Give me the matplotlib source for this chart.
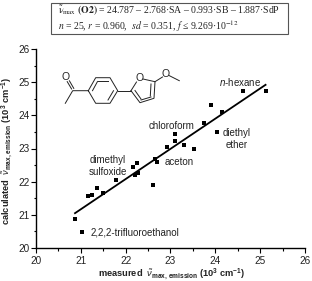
import matplotlib
matplotlib.use('Agg')
import matplotlib.pyplot as plt
from matplotlib.patches import Rectangle

plt.rcParams['font.family'] = ['Liberation Sans', 'DejaVu Sans']
plt.rcParams['mathtext.fontset'] = 'custom'
plt.rcParams['mathtext.rm'] = 'Liberation Sans'
plt.rcParams['mathtext.it'] = 'Liberation Sans:italic'
plt.rcParams['mathtext.bf'] = 'Liberation Sans:bold'

measured = [20.86, 21.03, 21.17, 21.26, 21.36, 21.49, 21.78, 22.16, 22.21, 22.26, 22.27, 22.62, 22.66,
            22.71, 22.93, 23.09, 23.09, 23.30, 23.52, 23.74, 23.91, 24.03, 24.14, 24.62, 25.12]
calculated = [20.87, 20.47, 21.56, 21.59, 21.81, 21.65, 22.06, 22.45, 22.20, 22.55, 22.25, 21.91, 22.69,
              22.60, 23.04, 23.23, 23.43, 23.11, 23.00, 23.76, 24.30, 23.50, 24.11, 24.72, 24.73]
fit_x = [20.87, 25.12]
fit_y = [21.05, 24.92]
ticks = [20, 21, 22, 23, 24, 25, 26]
minor = [20.5, 21.5, 22.5, 23.5, 24.5, 25.5]

W, H = 312, 281
fig = plt.figure(figsize=(W / 100, H / 100), dpi=100)
ax = fig.add_axes([36 / W, 1 - 248 / H, (305 - 36) / W, (248 - 49) / H])
ax.set_xlim(20, 26)
ax.set_ylim(20, 26)
ax.plot(fit_x, fit_y, color='black', lw=1.3, zorder=2)
ax.scatter(measured, calculated, marker='s', s=11, color='black', linewidths=0, zorder=3)
for s in ('top', 'right'):
    ax.spines[s].set_visible(False)
for s in ('left', 'bottom'):
    ax.spines[s].set_linewidth(1.0)
ax.set_xticks(ticks)
ax.set_yticks(ticks)
ax.set_xticks(minor, minor=True)
ax.set_yticks(minor, minor=True)
ax.tick_params(which='major', length=3.4, width=0.8, labelsize=7.2, color='black', labelcolor='#222222')
ax.tick_params(axis='x', which='major', pad=2.2)
ax.tick_params(axis='y', which='major', pad=1.0)
ax.tick_params(which='minor', length=1.8, width=0.8)

fs = 7.0
tc = '#222222'
ax.text(21.22, 20.47, '2,2,2-trifluoroethanol', fontsize=fs, color=tc, va='center', ha='left')
ax.text(21.6, 22.65, 'dimethyl', fontsize=fs, color=tc, ha='center', va='center')
ax.text(21.6, 22.30, 'sulfoxide', fontsize=fs, color=tc, ha='center', va='center')
ax.text(22.86, 22.60, 'aceton', fontsize=fs, color=tc, ha='left', va='center')
ax.text(23.02, 23.68, 'chloroform', fontsize=fs, color=tc, ha='center', va='center')
ax.text(24.17, 23.47, 'diethyl', fontsize=fs, color=tc, ha='left', va='center')
ax.text(24.24, 23.10, 'ether', fontsize=fs, color=tc, ha='left', va='center')
ax.text(24.55, 25.01, r'$\mathit{n}$-hexane', fontsize=fs, color=tc, ha='center', va='center')

fig.text(171 / W, 1 - 274.5 / H, r'measured  $\tilde{\mathit{\nu}}_{\mathbf{max,\,emission}}$ (10$^{\mathbf{3}}$ cm$^{\mathbf{-1}}$)',
         fontsize=6.7, fontweight='bold', ha='center', va='center', color=tc)
fig.text(7.5 / W, 1 - 151 / H, r'calculated  $\tilde{\mathit{\nu}}_{\mathbf{max,\,emission}}$ (10$^{\mathbf{3}}$ cm$^{\mathbf{-1}}$)',
         fontsize=6.7, fontweight='bold', ha='center', va='center', rotation=90, color=tc)

# overlay in pixel coordinates for the annotation box and the structure drawing
ov = fig.add_axes([0, 0, 1, 1], facecolor='none')
ov.set_xlim(0, W)
ov.set_ylim(H, 0)
ov.axis('off')
ov.add_patch(Rectangle((50.5, 2.5), 237, 31, fc='white', ec='#555555', lw=0.8))
ov.text(58, 18.5,
        r'$\tilde{\mathrm{\nu}}_{\mathrm{max}}$ $\mathbf{(O2)}$ = 24.787 – 2.768·SA – 0.993·SB – 1.887·SdP' + '\n'
        + r'$\mathit{n}$ = 25, $\mathit{r}$ = 0.960,  $\mathit{sd}$ = 0.351, $\mathit{f}$ ≤ 9.269·10$^{-12}$',
        fontsize=7.05, family='Liberation Serif', math_fontfamily='stix', va='center', ha='left',
        linespacing=1.15, color=tc)

bonds = [
    [(65.3, 103.3), (72.7, 90.7), (88.3, 90.7)],
    [(71.6, 89.0), (67.2, 81.6)], [(73.8, 88.4), (69.4, 80.8)],
    [(88.3, 90.7), (95.7, 77.7), (110, 77.7), (117.7, 90.7), (110, 103.3), (95.7, 103.3), (88.3, 90.7)],
    [(92.5, 90.7), (97.5, 81.5)], [(98, 81), (108, 81)], [(108, 100), (113.5, 90.7)],
    [(117.7, 90.7), (131, 90.7)],
    [(131, 90.7), (136.5, 82)], [(143, 79), (155, 81.7), (154, 98.3), (140, 102.7), (131, 90.7)],
    [(151, 84), (150.3, 96)], [(151, 97), (141, 100)], [(135, 90.5), (141, 99)],
    [(155, 81.7), (162.5, 77)], [(169, 75.5), (179.3, 80.7)],
]
for b in bonds:
    ov.plot([p[0] for p in b], [p[1] for p in b], color='#222222', lw=0.7, solid_joinstyle='miter')
ov.text(65.5, 77.5, 'O', fontsize=7.5, ha='center', va='center', color=tc)
ov.text(139.8, 78.3, 'O', fontsize=7.5, ha='center', va='center', color=tc)
ov.text(165.7, 74, 'O', fontsize=7.5, ha='center', va='center', color=tc)

fig.savefig('out.png', dpi=100)
